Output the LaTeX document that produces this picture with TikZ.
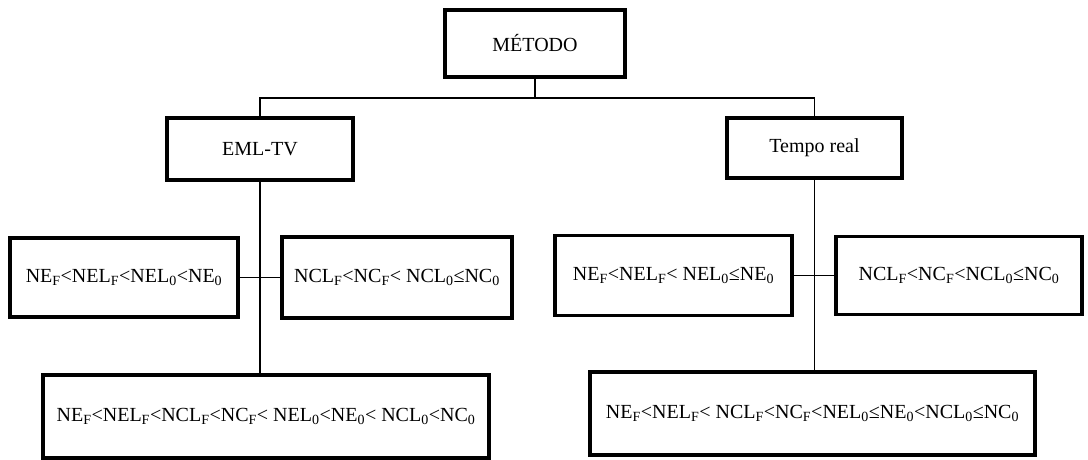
\documentclass[tikz,border=0pt]{standalone}
\usepackage{fontspec}
\setmainfont{Liberation Serif}
\newcommand{\sbs}[1]{\textsubscript{#1}}
\begin{document}
\begin{tikzpicture}[x=1pt,y=-1pt,
  box/.style={draw=black,line width=3.4pt,rectangle,inner sep=0pt,align=center,
    font=\fontsize{20}{23}\selectfont},
  link/.style={draw=black,line width=1.5pt}]
\useasboundingbox (0,0) rectangle (1088,460);
\node[box,minimum width=180pt,minimum height=67pt] (metodo) at (535,43.5) {MÉTODO};
\node[box,minimum width=186pt,minimum height=62pt] (eml) at (260,149) {EML-TV};
\node[box,minimum width=175pt,minimum height=60pt] (tempo) at (814.5,148) {Tempo real};
\node[box,minimum width=228pt,minimum height=79pt] (ne1) at (124,277.5)
  {NE\sbs{F}<NEL\sbs{F}<NEL\sbs{0}<NE\sbs{0}};
\node[box,minimum width=230pt,minimum height=81pt] (ncl1) at (397,277.5)
  {NCL\sbs{F}<NC\sbs{F}< NCL\sbs{0}≤NC\sbs{0}};
\node[box,minimum width=237pt,minimum height=80pt] (ne2) at (673.5,275.5)
  {NE\sbs{F}<NEL\sbs{F}< NEL\sbs{0}≤NE\sbs{0}};
\node[box,minimum width=246pt,minimum height=78pt] (ncl2) at (959,275.5)
  {NCL\sbs{F}<NC\sbs{F}<NCL\sbs{0}≤NC\sbs{0}};
\node[box,minimum width=446pt,minimum height=83pt] (bot1) at (266,416.5)
  {NE\sbs{F}<NEL\sbs{F}<NCL\sbs{F}<NC\sbs{F}< NEL\sbs{0}<NE\sbs{0}< NCL\sbs{0}<NC\sbs{0}};
\node[box,minimum width=445pt,minimum height=83pt] (bot2) at (812.5,413.5)
  {NE\sbs{F}<NEL\sbs{F}< NCL\sbs{F}<NC\sbs{F}<NEL\sbs{0}≤NE\sbs{0}<NCL\sbs{0}≤NC\sbs{0}};
\coordinate (bus) at (535,98);
\draw[link] (metodo.south) -- (bus);
\draw[link] (eml.north) -- (eml.north |- bus) -- (tempo.north |- bus) -- (tempo.north);
\draw[link] (eml.south) -- (eml.south |- bot1.north);
\draw[link] (tempo.south) -- (tempo.south |- bot2.north);
\draw[link] (ne1.east) -- (ncl1.west);
\draw[link] (ne2.east) -- (ncl2.west);
\end{tikzpicture}
\end{document}
